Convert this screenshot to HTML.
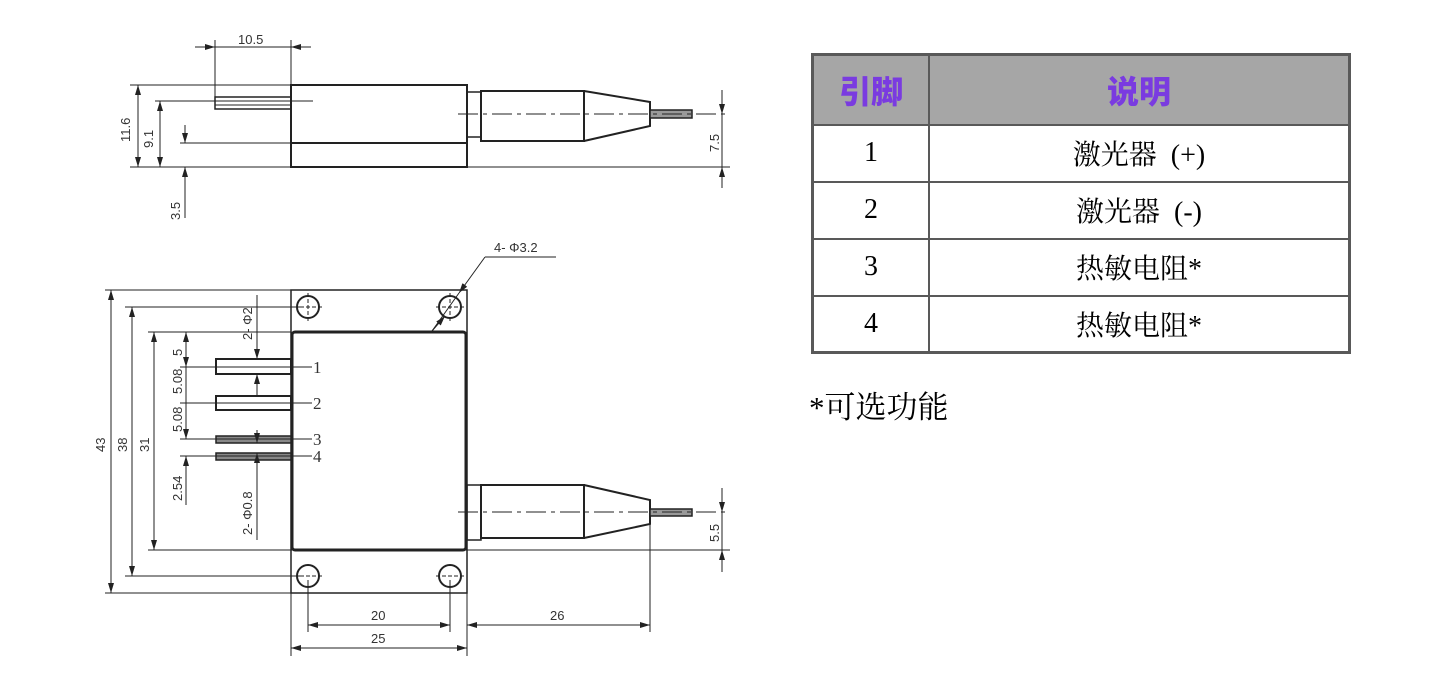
<!DOCTYPE html>
<html><head><meta charset="utf-8"><style>
html,body{margin:0;padding:0;background:#fff;}
body{width:1442px;height:685px;position:relative;overflow:hidden;}
svg{position:absolute;left:0;top:0;}
.d{font-family:"Liberation Sans",sans-serif;font-size:13px;fill:#333;}
.s{font-family:"Liberation Serif",serif;font-size:17px;fill:#333;}
table{position:absolute;left:811px;top:53px;border-collapse:collapse;border:3px solid #595959;}
td{border:2px solid #595959;text-align:center;font-family:"Liberation Serif","Noto Serif CJK SC",serif;font-size:28px;color:#000;padding:0;}
th{border:2px solid #595959;background:#a6a6a6;color:#7a3be0;font-family:"Liberation Sans","Noto Sans CJK SC",sans-serif;font-weight:900;font-size:32px;padding:0;}
.note{position:absolute;left:809px;top:382px;font-family:"Liberation Serif","Noto Serif CJK SC",serif;font-size:31px;color:#000;}
</style></head><body>
<svg width="1442" height="685" viewBox="0 0 1442 685">
<defs><marker id="a" viewBox="0 0 10 6" refX="10" refY="3" markerWidth="10" markerHeight="6" orient="auto-start-reverse" markerUnits="userSpaceOnUse"><path d="M0,0L10,3L0,6z" fill="#222"/></marker></defs>
<g stroke="#222" fill="none" stroke-width="1">
<rect x="291" y="85" width="176" height="82" stroke-width="2"/>
<line x1="291" y1="143" x2="467" y2="143" stroke-width="2"/>
<rect x="215" y="97" width="76" height="12" stroke-width="1.5"/>
<line x1="215" y1="101" x2="291" y2="101"/><line x1="215" y1="105" x2="291" y2="105"/>
<line x1="155" y1="101" x2="313" y2="101"/>
<rect x="467" y="92" width="14" height="45" stroke-width="1.5"/>
<rect x="481" y="91" width="103" height="50" stroke-width="2"/>
<path d="M584,91 L650,102 L650,126 L584,141" stroke-width="2"/>
<rect x="650" y="110" width="42" height="8" fill="#999" stroke-width="1.5"/>
<line x1="458" y1="114" x2="730" y2="114" stroke-dasharray="20,5,4,5"/>
<line x1="215" y1="40" x2="215" y2="97"/><line x1="291" y1="40" x2="291" y2="97"/>
<line x1="195" y1="47" x2="215" y2="47" marker-end="url(#a)"/><line x1="311" y1="47" x2="291" y2="47" marker-end="url(#a)"/><line x1="215" y1="47" x2="291" y2="47"/>
<line x1="130" y1="85" x2="291" y2="85"/><line x1="130" y1="167" x2="730" y2="167"/>
<line x1="138" y1="85" x2="138" y2="167" marker-start="url(#a)" marker-end="url(#a)"/>
<line x1="160" y1="101" x2="160" y2="167" marker-start="url(#a)" marker-end="url(#a)"/>
<line x1="180" y1="143" x2="291" y2="143"/>
<line x1="185" y1="125" x2="185" y2="143" marker-end="url(#a)"/>
<line x1="185" y1="218" x2="185" y2="167" marker-end="url(#a)"/>
<line x1="722" y1="90" x2="722" y2="114" marker-end="url(#a)"/>
<line x1="722" y1="188" x2="722" y2="167" marker-end="url(#a)"/>
<line x1="722" y1="114" x2="722" y2="167"/>
<rect x="291" y="290" width="176" height="303" stroke-width="1.5"/>
<rect x="292" y="332" width="174" height="218" rx="3" stroke-width="3"/>
<g stroke-width="2"><circle cx="308" cy="307" r="11"/><circle cx="450" cy="307" r="11"/><circle cx="308" cy="576" r="11"/><circle cx="450" cy="576" r="11"/></g>
<g stroke-dasharray="4,2"><line x1="294" y1="307" x2="322" y2="307"/><line x1="308" y1="293" x2="308" y2="321"/><line x1="436" y1="307" x2="464" y2="307"/><line x1="450" y1="293" x2="450" y2="321"/><line x1="294" y1="576" x2="322" y2="576"/><line x1="436" y1="576" x2="464" y2="576"/></g>
<rect x="216" y="359" width="75" height="15" stroke-width="2"/>
<rect x="216" y="396" width="75" height="14" stroke-width="2"/>
<rect x="216" y="436" width="75" height="7" fill="#888" stroke-width="1.5"/>
<rect x="216" y="453" width="75" height="7" fill="#888" stroke-width="1.5"/>
<line x1="180" y1="367" x2="312" y2="367"/><line x1="180" y1="403" x2="312" y2="403"/>
<line x1="180" y1="439" x2="312" y2="439"/><line x1="180" y1="456" x2="312" y2="456"/>
<line x1="105" y1="290" x2="291" y2="290"/><line x1="105" y1="593" x2="291" y2="593"/>
<line x1="125" y1="307" x2="300" y2="307"/><line x1="125" y1="576" x2="300" y2="576"/>
<line x1="148" y1="332" x2="291" y2="332"/><line x1="148" y1="550" x2="730" y2="550"/>
<line x1="111" y1="290" x2="111" y2="593" marker-start="url(#a)" marker-end="url(#a)"/>
<line x1="132" y1="307" x2="132" y2="576" marker-start="url(#a)" marker-end="url(#a)"/>
<line x1="154" y1="332" x2="154" y2="550" marker-start="url(#a)" marker-end="url(#a)"/>
<line x1="186" y1="332" x2="186" y2="367" marker-start="url(#a)" marker-end="url(#a)"/>
<line x1="186" y1="367" x2="186" y2="439"/>
<line x1="186" y1="430" x2="186" y2="439" marker-end="url(#a)"/>
<line x1="186" y1="505" x2="186" y2="456" marker-end="url(#a)"/>
<line x1="257" y1="295" x2="257" y2="359" marker-end="url(#a)"/>
<line x1="257" y1="397" x2="257" y2="374" marker-end="url(#a)"/>
<line x1="257" y1="430" x2="257" y2="443" marker-end="url(#a)"/>
<line x1="257" y1="540" x2="257" y2="453" marker-end="url(#a)"/>
<line x1="485" y1="257" x2="556" y2="257"/>
<line x1="485" y1="257" x2="459" y2="293" marker-end="url(#a)"/>
<line x1="459" y1="293" x2="432" y2="331"/>
<line x1="445" y1="316" x2="432" y2="331" marker-start="url(#a)"/>
<rect x="467" y="485" width="14" height="55" stroke-width="1.5"/>
<rect x="481" y="485" width="103" height="53" stroke-width="2"/>
<path d="M584,485 L650,500 L650,524 L584,538" stroke-width="2"/>
<rect x="650" y="509" width="42" height="7" fill="#999" stroke-width="1.5"/>
<line x1="458" y1="512" x2="730" y2="512" stroke-dasharray="20,5,4,5"/>
<line x1="722" y1="488" x2="722" y2="512" marker-end="url(#a)"/>
<line x1="722" y1="572" x2="722" y2="550" marker-end="url(#a)"/>
<line x1="722" y1="512" x2="722" y2="550"/>
<line x1="308" y1="580" x2="308" y2="632"/><line x1="450" y1="580" x2="450" y2="632"/>
<line x1="291" y1="593" x2="291" y2="656"/><line x1="467" y1="593" x2="467" y2="656"/>
<line x1="650" y1="525" x2="650" y2="632"/>
<line x1="308" y1="625" x2="450" y2="625" marker-start="url(#a)" marker-end="url(#a)"/>
<line x1="291" y1="648" x2="467" y2="648" marker-start="url(#a)" marker-end="url(#a)"/>
<line x1="467" y1="625" x2="650" y2="625" marker-start="url(#a)" marker-end="url(#a)"/>
</g>
<g class="d">
<text x="238" y="44">10.5</text>
<text transform="translate(130,142) rotate(-90)">11.6</text>
<text transform="translate(153,148) rotate(-90)">9.1</text>
<text transform="translate(180,220) rotate(-90)">3.5</text>
<text transform="translate(719,152) rotate(-90)">7.5</text>
<text transform="translate(719,542) rotate(-90)">5.5</text>
<text transform="translate(105,452) rotate(-90)">43</text>
<text transform="translate(127,452) rotate(-90)">38</text>
<text transform="translate(149,452) rotate(-90)">31</text>
<text transform="translate(182,356) rotate(-90)">5</text>
<text transform="translate(182,394) rotate(-90)">5.08</text>
<text transform="translate(182,432) rotate(-90)">5.08</text>
<text transform="translate(182,501) rotate(-90)">2.54</text>
<text transform="translate(252,340) rotate(-90)">2- Φ2</text>
<text transform="translate(252,535) rotate(-90)">2- Φ0.8</text>
<text x="494" y="252">4- Φ3.2</text>
<text x="371" y="620">20</text>
<text x="371" y="643">25</text>
<text x="550" y="620">26</text>
</g>
<g class="s"><text x="313" y="373">1</text><text x="313" y="409">2</text><text x="313" y="445">3</text><text x="313" y="462">4</text></g>
</svg>
<table>
<tr style="height:70px"><th style="width:114px">引脚</th><th style="width:418px">说明</th></tr>
<tr style="height:57px"><td>1</td><td>激光器&nbsp;&nbsp;(+)</td></tr>
<tr style="height:57px"><td>2</td><td>激光器&nbsp;&nbsp;(-)</td></tr>
<tr style="height:57px"><td>3</td><td>热敏电阻*</td></tr>
<tr style="height:57px"><td>4</td><td>热敏电阻*</td></tr>
</table>
<div class="note">*可选功能</div>
</body></html>
